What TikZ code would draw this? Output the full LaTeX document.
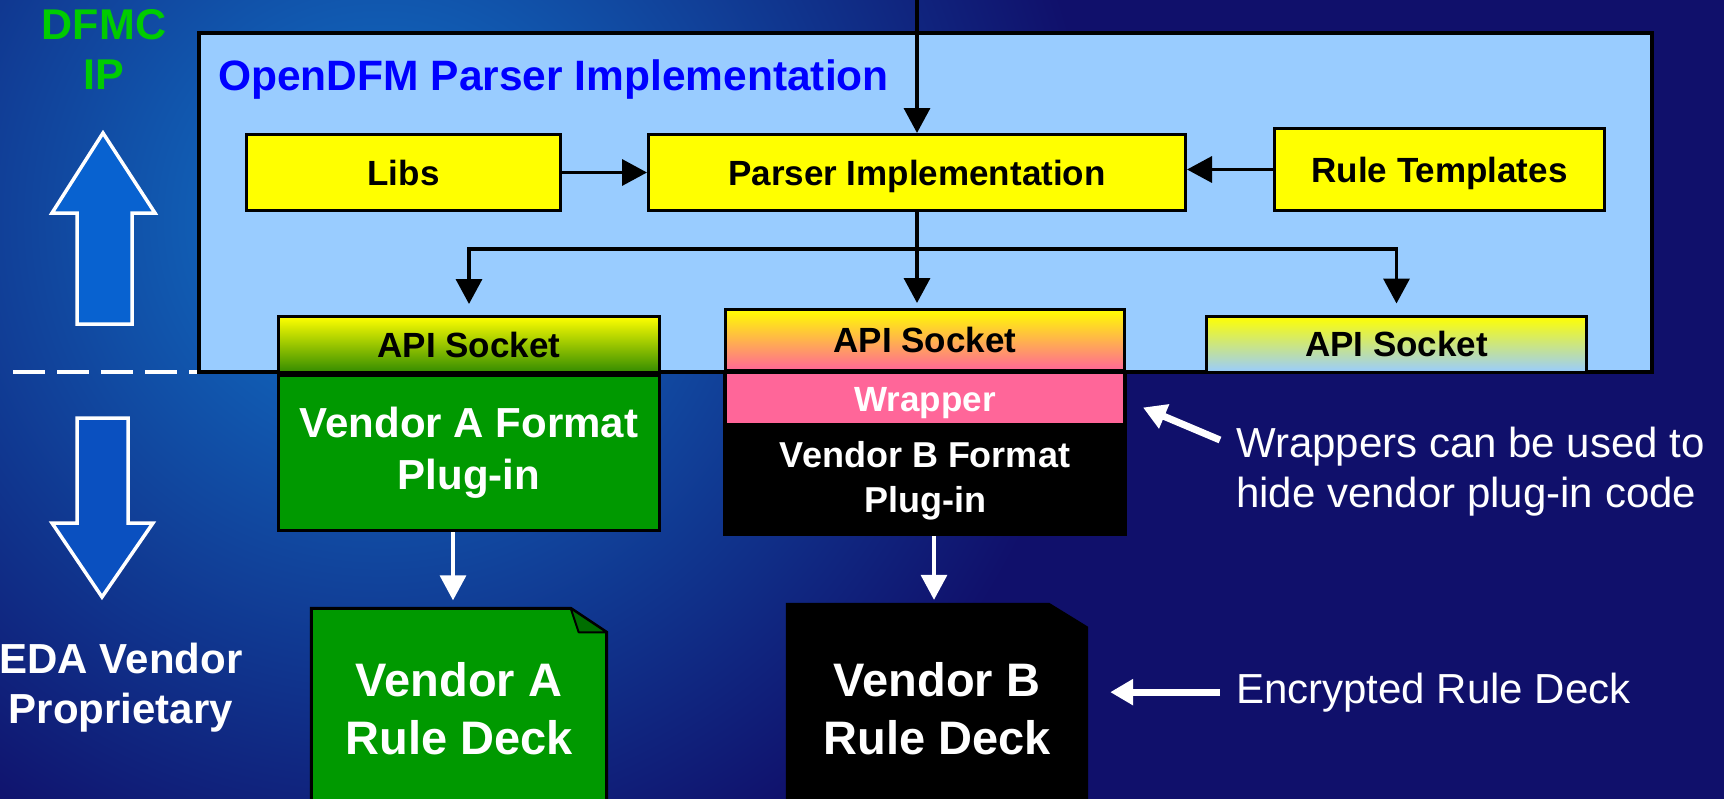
\documentclass[tikz,border=0pt]{standalone}
\usepackage{fontspec}
\setmainfont{Liberation Sans}
\usetikzlibrary{shapes,arrows.meta,calc}
\definecolor{bglight}{RGB}{17,104,190}
\definecolor{bgdark}{RGB}{16,16,107}
\definecolor{implblue}{RGB}{153,204,255}
\definecolor{boxyellow}{RGB}{255,255,0}
\definecolor{pluggreen}{RGB}{0,153,0}
\definecolor{sockgreen}{RGB}{51,140,0}
\definecolor{wrappink}{RGB}{255,102,153}
\definecolor{titleblue}{RGB}{0,0,255}
\definecolor{ipgreen}{RGB}{0,204,0}
\definecolor{uparrow}{RGB}{8,98,208}
\definecolor{downarrow}{RGB}{10,80,192}
\definecolor{foldgreen}{RGB}{0,110,0}
\pgfdeclarelayer{back}
\pgfsetlayers{back,main}
\pgfdeclareradialshading{bgglow}{\pgfpoint{0bp}{0bp}}{color(0bp)=(bglight); color(2.7bp)=(bglight); color(19bp)=(bgdark); color(50bp)=(bgdark)}
\tikzstyle{block} = [draw=black, line width=3pt, fill=boxyellow, inner sep=0pt, text height=25pt, text depth=0pt, font=\bfseries\fontsize{35}{40}\selectfont]
\tikzstyle{socket} = [block, minimum height=56pt]
\tikzstyle{plugin} = [inner sep=0pt, text=white, align=center, font=\bfseries\fontsize{42}{52}\selectfont]
\tikzstyle{deck} = [inner sep=0pt, text=white, align=center, font=\bfseries\fontsize{47}{58}\selectfont]
\tikzstyle{flow} = [->, line width=3.5pt, black]
\tikzstyle{whiteflow} = [->, line width=3.5pt, white]
\tikzstyle{note} = [line width=7pt, white, -{Triangle[length=23pt,width=25pt]}]
\tikzstyle{sidelabel} = [inner sep=0pt, align=center, font=\bfseries\fontsize{42}{50}\selectfont]
\tikzstyle{remark} = [inner sep=0pt, text=white, align=left, font=\fontsize{42}{50}\selectfont]

\begin{document}
\begin{tikzpicture}[x=1pt, y=-1pt, >={Triangle[length=25pt,width=26pt]}]
		\useasboundingbox (0,0) rectangle (1724,798);
		\begin{pgfonlayer}{back}
		\clip (0,0) rectangle (1724,798);
		\fill [bgdark] (0,0) rectangle (1724,798);
		\begin{pgfscope}
		\pgftransformshift{\pgfpoint{380pt}{-220pt}}
		\pgftransformscale{37.5}
		\pgflowlevelsynccm
		\pgfuseshading{bgglow}
		\end{pgfscope}
		\end{pgfonlayer}
		\clip (0,0) rectangle (1724,798);
		
		% left side
		\node [sidelabel, text=ipgreen, font=\bfseries\fontsize{43}{50}\selectfont] (dfmc) at (104,49) {DFMC\\IP};
		\draw [white, line width=3.5pt, fill=uparrow] (103,133) -- (155,213) -- (132,213) -- (132,324) -- (77,324) -- (77,213) -- (52,213) -- cycle;
		\draw [white, line width=4pt, dash pattern=on 32pt off 12pt] (13,372) -- (197,372);
		\draw [white, line width=3.5pt, fill=downarrow] (77,418) -- (128,418) -- (128,523) -- (153,523) -- (102,597) -- (52,523) -- (77,523) -- cycle;
		\node [sidelabel, text=white] (eda) at (121,688) {EDA Vendor\\Proprietary};
		
		% parser box
		\node [draw=black, line width=4pt, fill=implblue, minimum width=1453pt, minimum height=339pt, inner sep=0pt] (impl) at (925.5,202.5) {};
		\node [anchor=base west, inner sep=0pt, text=titleblue, font=\bfseries\fontsize{42.5}{50}\selectfont] (title) at (218,90) {OpenDFM Parser Implementation};
		\node [block, minimum width=314pt, minimum height=76pt] (libs) at (403.5,172.5) {Libs};
		\node [block, minimum width=537pt, minimum height=76pt, right of=libs, node distance=513.5pt] (parser) {Parser Implementation};
		\node [block, minimum width=330pt, minimum height=82pt, right of=parser, node distance=522.5pt, yshift=3pt] (rules) {Rule Templates};
		
		\coordinate (feed) at (917,0);
		\coordinate (split) at (917,249);
		\draw [flow] (feed) -- (parser);
		\draw [flow] (libs) -- (parser);
		\draw [flow] (rules.west) -- (rules.west -| parser.east);
		\draw [line width=3.5pt] (parser.south) -- (split);
		
		% plug-ins
		\node [plugin, draw=black, line width=3pt, fill=pluggreen, minimum width=381pt, minimum height=155pt] (plugA) at (469,453) {Vendor A Format\\Plug-in};
		\node [draw=black, line width=4pt, fill=wrappink, minimum width=400pt, minimum height=53pt, inner sep=0pt, text=white, text height=25pt, text depth=0pt, font=\bfseries\fontsize{35}{40}\selectfont] (wrapper) at (925,398.5) {Wrapper};
		\node [plugin, fill=black, minimum width=404pt, minimum height=110pt, font=\bfseries\fontsize{36}{45}\selectfont] (plugB) at (925,481) {Vendor B Format\\Plug-in};
		
		\node [socket, minimum width=381pt, top color=boxyellow, bottom color=sockgreen] (sockA) at (469,344.5) {API Socket};
		\node [socket, minimum width=399pt, minimum height=61pt, top color=boxyellow, bottom color=wrappink] (sockB) at (925,340) {API Socket};
		\node [socket, minimum width=380pt, top color=boxyellow, bottom color=implblue] (sockC) at (1396.5,344) {API Socket};
		
		\draw [flow, shorten >=11pt] (split) -| (sockA);
		\draw [flow, shorten >=5pt] (split) -- (split |- sockB.north);
		\draw [flow, shorten >=11pt] (split) -| (sockC);
		
		% rule decks
		\node [deck, minimum width=295pt, minimum height=201pt] (deckA) at (459,709) {Vendor A\\Rule Deck};
		\node [deck, minimum width=302pt, minimum height=212pt] (deckB) at (937,709) {Vendor B\\Rule Deck};
		\begin{pgfonlayer}{back}
		\draw [line width=3pt, fill=pluggreen] (deckA.south west) -- (deckA.north west) -- ($(deckA.north east)+(-36,0)$) -- ($(deckA.north east)+(0,24)$) -- (deckA.south east) -- cycle;
		\draw [line width=2pt, fill=foldgreen, line join=round] ($(deckA.north east)+(-36,0)$) -- ++(8,24) -- ($(deckA.north east)+(0,24)$) -- cycle;
		\fill [black] (deckB.south west) -- (deckB.north west) -- ($(deckB.north east)+(-39,0)$) -- ($(deckB.north east)+(0,24)$) -- (deckB.south east) -- cycle;
		\end{pgfonlayer}
		
		\draw [whiteflow, shorten >=8pt] ([xshift=-16pt]plugA.south) -- ([xshift=-6pt]deckA.north);
		\draw [whiteflow, shorten >=3pt] ([xshift=9pt]plugB.south) -- ([xshift=-3pt]deckB.north);
		
		% remarks
		\node [remark, anchor=west] (wrapnote) at (1236,472) {Wrappers can be used to\\hide vendor plug-in code};
		\node [remark, anchor=base west] (encnote) at (1236,703) {Encrypted Rule Deck};
		\draw [note] ($(wrapnote.west)+(-16,-32)$) -- ($(wrapper.east)+(16,9)$);
		\draw [note] ($(encnote.west)+(-16,0)$) -- ($(deckB.east |- encnote.west)+(22,0)$);
		
		
		\end{tikzpicture}
\end{document}
